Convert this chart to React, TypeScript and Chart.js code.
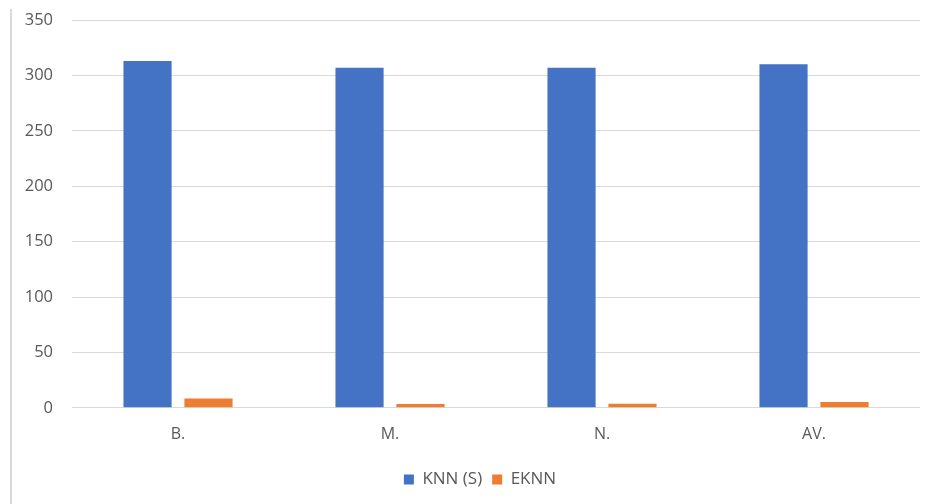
import React, { useEffect, useRef } from "react";
import { Chart, registerables } from "chart.js";

Chart.register(...registerables);

const categories = ["B.", "M.", "N.", "AV."];
const knnValues = [313, 307, 307, 310];
const eknnValues = [8.4, 3.4, 3.6, 5.2];
const yTicks = [0, 50, 100, 150, 200, 250, 300, 350];

// Centre the legend under the plot area rather than the whole canvas.
const legendShift = {
  id: "legendShift",
  afterLayout(chart: any) {
    const lg = chart.legend;
    if (lg) lg.left = chart.chartArea.left - 32;
  },
};

export default function App() {
  const canvasRef = useRef<HTMLCanvasElement | null>(null);

  useEffect(() => {
    document.body.style.margin = "0";
    document.body.style.background = "#ffffff";
    const ctx = canvasRef.current;
    if (!ctx) return;
    const chart = new Chart(ctx, {
      type: "bar",
      data: {
        labels: categories,
        datasets: [
          {
            label: "KNN (S)",
            data: knnValues,
            backgroundColor: "#4472C4",
            barPercentage: 0.79,
            categoryPercentage: 0.575,
          },
          {
            label: "EKNN",
            data: eknnValues,
            backgroundColor: "#ED7D31",
            barPercentage: 0.79,
            categoryPercentage: 0.575,
          },
        ],
      },
      options: {
        animation: false,
        responsive: false,
        maintainAspectRatio: false,
        layout: { padding: { top: 20, right: 13, bottom: 6, left: 0 } },
        plugins: {
          tooltip: { enabled: false },
          legend: {
            position: "bottom",
            labels: {
              boxWidth: 10,
              boxHeight: 10,
              padding: 10,
              color: "#595959",
              font: { family: "'Open Sans', 'Noto Sans', sans-serif", size: 17 },
            },
          },
        },
        scales: {
          x: {
            grid: { display: false, drawTicks: false },
            border: { display: false },
            ticks: {
              padding: 17,
              color: "#595959",
              font: { family: "'Open Sans', 'Noto Sans', sans-serif", size: 16 },
            },
          },
          y: {
            min: 0,
            max: 350,
            afterBuildTicks: (scale: any) => {
              scale.ticks = yTicks.map((v) => ({ value: v }));
            },
            afterFit: (scale: any) => {
              scale.width = 72;
            },
            grid: {
              color: "#d9d9d9",
              lineWidth: 1,
              drawTicks: true,
              tickLength: 19,
              tickColor: "rgba(0,0,0,0)",
            },
            border: { display: false },
            ticks: {
              padding: 0,
              color: "#595959",
              font: { family: "'Open Sans', 'Noto Sans', sans-serif", size: 16.5 },
            },
          },
        },
      },
      plugins: [legendShift],
    });
    return () => chart.destroy();
  }, []);

  return (
    <div>
      <canvas
        ref={canvasRef}
        width={933}
        height={504}
        style={{ position: "fixed", left: 0, top: 0, width: 933, height: 504 }}
      />
      <div
        style={{
          position: "fixed",
          left: 10,
          top: 9,
          bottom: 0,
          width: 2,
          background: "#d9d9d9",
        }}
      />
    </div>
  );
}
